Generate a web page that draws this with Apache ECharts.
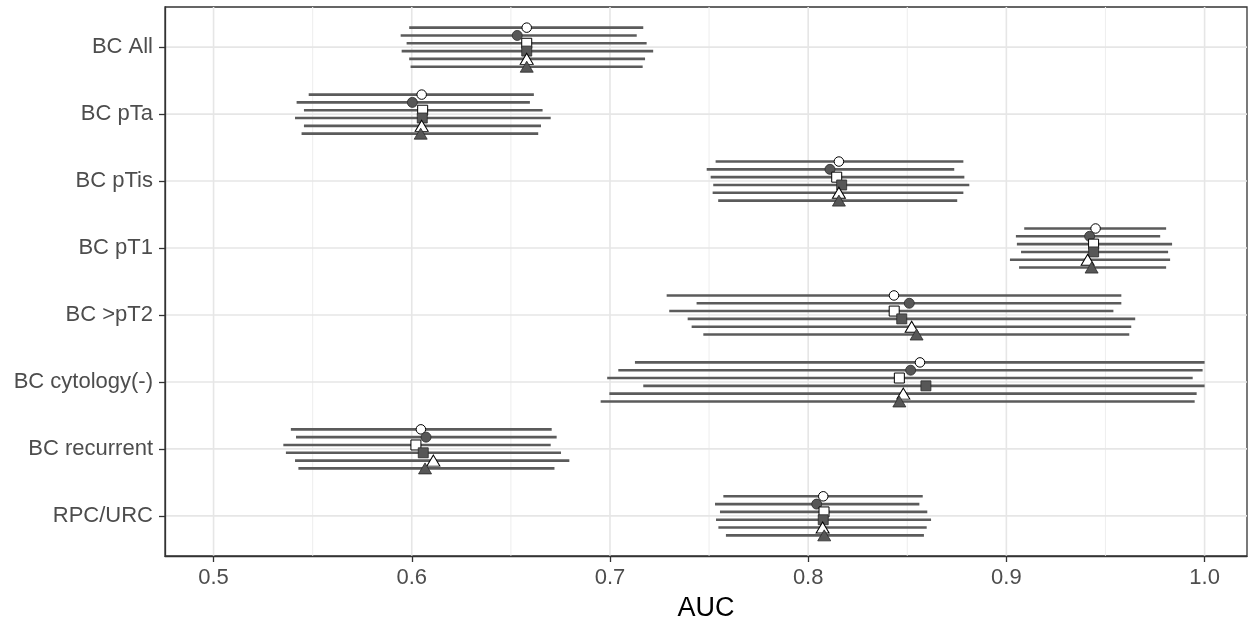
<!DOCTYPE html>
<html>
<head>
<meta charset="utf-8">
<title>AUC by subgroup</title>
<script src="https://cdn.jsdelivr.net/npm/echarts@6/dist/echarts.min.js"></script>
<style>
  html, body { margin: 0; padding: 0; background: #ffffff; }
  #chart { width: 1252px; height: 620px; }
</style>
</head>
<body>
<div id="chart"></div>
<script>
// Subgroups, top to bottom
const categories = ["BC All", "BC pTa", "BC pTis", "BC pT1", "BC >pT2", "BC cytology(-)", "BC recurrent", "RPC/URC"];

// x-axis tick labels
const majorTicks = [0.5, 0.6, 0.7, 0.8, 0.9, 1.0];
const minorTicks = [0.55, 0.65, 0.75, 0.85, 0.95];

// AUC point estimates and 95% CI bounds per model (one value per subgroup)
const aucM1 = [0.658, 0.605, 0.8155, 0.945, 0.8433, 0.8564, 0.6046, 0.8076];
const lowM1 = [0.5987, 0.548, 0.7533, 0.909, 0.7286, 0.7126, 0.539, 0.7572];
const highM1 = [0.7168, 0.6616, 0.8783, 0.9806, 0.958, 1.0, 0.6706, 0.8578];

const aucM2 = [0.6532, 0.6003, 0.811, 0.942, 0.851, 0.8517, 0.6072, 0.8043];
const lowM2 = [0.5944, 0.5419, 0.7488, 0.9048, 0.7437, 0.7042, 0.5416, 0.753];
const highM2 = [0.7135, 0.6596, 0.8737, 0.9776, 0.958, 0.999, 0.6731, 0.8561];

const aucM3 = [0.658, 0.6055, 0.8144, 0.944, 0.8434, 0.846, 0.6021, 0.808];
const lowM3 = [0.5974, 0.5456, 0.7508, 0.9053, 0.7299, 0.6986, 0.5352, 0.7555];
const highM3 = [0.7185, 0.666, 0.8788, 0.9836, 0.954, 0.994, 0.6701, 0.8601];

const aucM4 = [0.658, 0.6053, 0.8169, 0.944, 0.8472, 0.8594, 0.6058, 0.8076];
const lowM4 = [0.5949, 0.5411, 0.7521, 0.9074, 0.7392, 0.7168, 0.5365, 0.7535];
const highM4 = [0.7218, 0.6701, 0.8813, 0.9816, 0.965, 1.0, 0.6753, 0.862];

const aucM5 = [0.658, 0.605, 0.8155, 0.941, 0.8522, 0.848, 0.6109, 0.8073];
const lowM5 = [0.5987, 0.5456, 0.7518, 0.9018, 0.7412, 0.6997, 0.5411, 0.7547];
const highM5 = [0.7177, 0.6652, 0.8783, 0.9826, 0.963, 0.996, 0.6795, 0.8598];

const aucM6 = [0.658, 0.6045, 0.8155, 0.943, 0.8547, 0.846, 0.6067, 0.8081];
const lowM6 = [0.5994, 0.5444, 0.7546, 0.9064, 0.7471, 0.6953, 0.5428, 0.7585];
const highM6 = [0.7165, 0.6638, 0.8752, 0.9806, 0.962, 0.995, 0.672, 0.8584];

const models = [
  { name: "Model 1", auc: aucM1, low: lowM1, high: highM1, symbol: "circle", filled: false },
  { name: "Model 2", auc: aucM2, low: lowM2, high: highM2, symbol: "circle", filled: true },
  { name: "Model 3", auc: aucM3, low: lowM3, high: highM3, symbol: "rect", filled: false },
  { name: "Model 4", auc: aucM4, low: lowM4, high: highM4, symbol: "rect", filled: true },
  { name: "Model 5", auc: aucM5, low: lowM5, high: highM5, symbol: "triangle", filled: false },
  { name: "Model 6", auc: aucM6, low: lowM6, high: highM6, symbol: "triangle", filled: true }
];

const FONT = "'Liberation Sans', Arial, Helvetica, sans-serif";
const X_MIN = 0.4755, X_MAX = 1.0214;
const Y_MIN = -0.6, Y_MAX = categories.length - 1 + 0.6;
const DODGE = 0.7 / models.length;   // vertical offset between models within a subgroup
const LINE_COLOR = "#5b5b5b";
const FILL_DARK = "#575757";
const FRAME = "#333333";

function offsetOf(k) { return (k - (models.length - 1) / 2) * DODGE; }

function symbolSizeFor(sym, filled) {
  if (sym === "triangle") return [13, 11];
  if (sym === "rect") return [10, 10];
  return filled ? 10 : 9.5;
}

// Grid line records: [orientation (0 = vertical, 1 = horizontal), value, isMajor]
const gridData = [
  ...minorTicks.map(v => [0, v, 0]),
  ...majorTicks.map(v => [0, v, 1]),
  ...categories.map((c, i) => [1, i, 1])
];

const series = [];

// Panel grid lines
series.push({
  type: "custom",
  silent: true,
  z: 0,
  data: gridData,
  encode: { x: -1, y: -1 },
  renderItem: function (params, api) {
    const cs = params.coordSys;
    const horizontal = api.value(0) === 1;
    const v = api.value(1);
    const major = api.value(2) === 1;
    let shape;
    if (horizontal) {
      const p = api.coord([X_MIN, v]);
      shape = { x1: cs.x, y1: p[1], x2: cs.x + cs.width, y2: p[1] };
    } else {
      const p = api.coord([v, Y_MIN]);
      shape = { x1: p[0], y1: cs.y, x2: p[0], y2: cs.y + cs.height };
    }
    return {
      type: "line",
      shape: shape,
      style: { stroke: major ? "#e6e6e6" : "#efefef", lineWidth: major ? 1.6 : 1.1 }
    };
  }
});

// Confidence interval segments
models.forEach((m, k) => {
  series.push({
    name: m.name,
    type: "custom",
    z: 2,
    silent: true,
    encode: { x: [0, 1], y: 2 },
    data: categories.map((c, i) => [m.low[i], m.high[i], i + offsetOf(k)]),
    renderItem: function (params, api) {
      const y = api.value(2);
      const p1 = api.coord([api.value(0), y]);
      const p2 = api.coord([api.value(1), y]);
      return {
        type: "line",
        shape: { x1: p1[0], y1: p1[1], x2: p2[0], y2: p2[1] },
        style: { stroke: LINE_COLOR, lineWidth: 2.6 }
      };
    }
  });
});

// Point estimates
models.forEach((m, k) => {
  series.push({
    name: m.name,
    type: "scatter",
    z: 3,
    symbol: m.symbol,
    symbolSize: symbolSizeFor(m.symbol, m.filled),
    itemStyle: {
      color: m.filled ? FILL_DARK : "#ffffff",
      borderColor: m.filled ? "#2a2a2a" : "#000000",
      borderWidth: m.filled ? 0.8 : 1,
      opacity: 1
    },
    data: categories.map((c, i) => [m.auc[i], i + offsetOf(k)])
  });
});

const chart = echarts.init(document.getElementById("chart"), null, { renderer: "canvas" });
chart.setOption({
  animation: false,
  backgroundColor: "#ffffff",
  textStyle: { fontFamily: FONT },
  grid: {
    left: 165, right: 5, top: 7, bottom: 64,
    outerBoundsMode: "none",
    containLabel: false,
    show: true,
    borderColor: FRAME,
    borderWidth: 1.3,
    backgroundColor: "transparent"
  },
  xAxis: {
    type: "value",
    position: "bottom",
    min: X_MIN,
    max: X_MAX,
    name: "AUC",
    nameLocation: "middle",
    nameGap: 39,
    nameTextStyle: { fontSize: 27, color: "#000000", fontFamily: FONT },
    axisLine: { show: true, onZero: false, lineStyle: { color: FRAME, width: 1.3 } },
    axisTick: { show: true, inside: false, length: 6, customValues: majorTicks, lineStyle: { color: FRAME, width: 1.3 } },
    axisLabel: {
      customValues: majorTicks,
      fontSize: 22,
      color: "#4d4d4d",
      fontFamily: FONT,
      margin: 11,
      formatter: v => v.toFixed(1)
    },
    splitLine: { show: false },
    minorSplitLine: { show: false }
  },
  yAxis: {
    type: "value",
    position: "left",
    inverse: true,
    min: Y_MIN,
    max: Y_MAX,
    axisLine: { show: true, onZero: false, lineStyle: { color: FRAME, width: 1.3 } },
    axisTick: { show: true, inside: false, length: 6, customValues: categories.map((c, i) => i), lineStyle: { color: FRAME, width: 1.3 } },
    axisLabel: {
      customValues: categories.map((c, i) => i),
      fontSize: 22,
      color: "#4d4d4d",
      fontFamily: FONT,
      margin: 12,
      formatter: v => categories[Math.round(v)] ?? ""
    },
    splitLine: { show: false }
  },
  series: series
});
</script>
</body>
</html>
